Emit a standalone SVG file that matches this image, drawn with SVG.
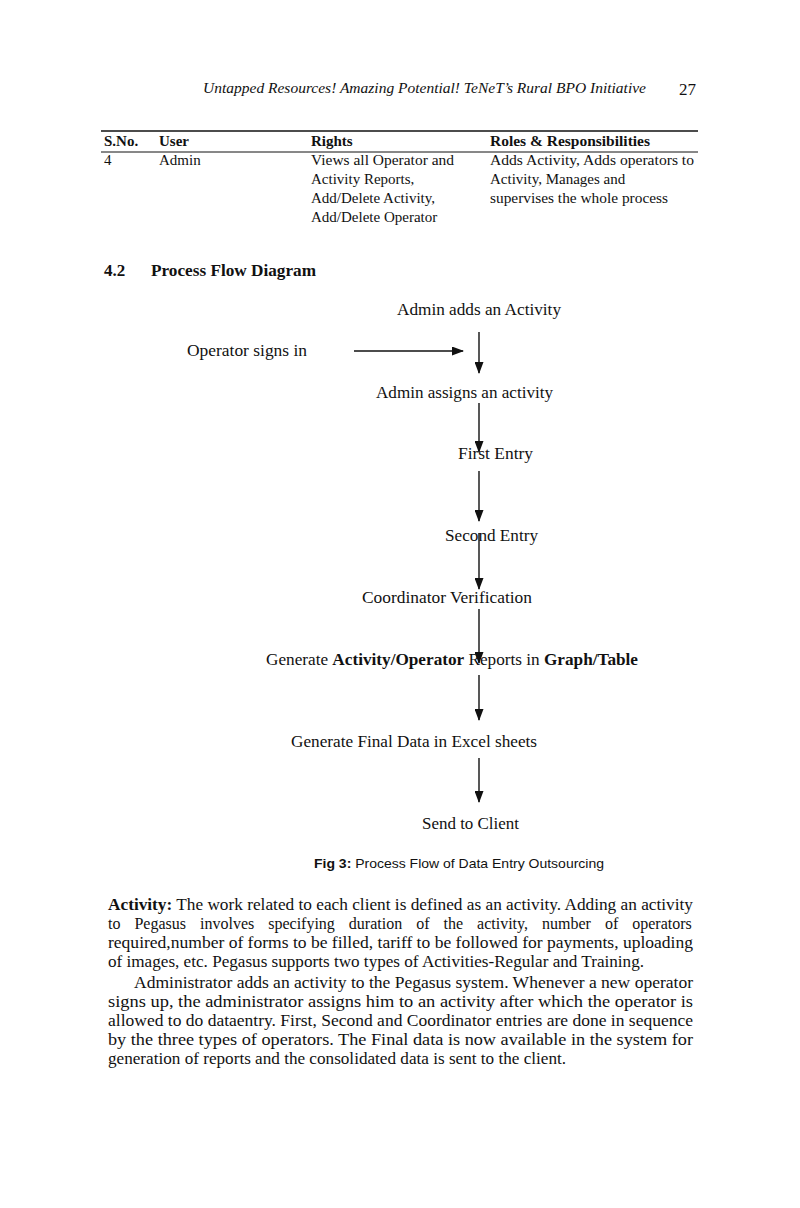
<svg xmlns="http://www.w3.org/2000/svg" width="800" height="1208" viewBox="0 0 800 1208">
<defs>
<style>
text{font-family:"Liberation Serif","Times New Roman",serif;fill:#111;}
.hd{font-size:15px;font-style:italic;}
.tb{font-size:15px;}
.th{font-size:15px;font-weight:bold;}
.fl{font-size:16px;}
.b{font-weight:bold;}
.cap{font-family:"Liberation Sans",Arial,sans-serif;font-size:13px;}
.p{font-size:16px;}
.ln{stroke:#111;stroke-width:1.3;fill:none;}
.ar{stroke:#111;stroke-width:1.4;fill:none;}
</style>
<marker id="ah" viewBox="0 0 12 9" refX="11" refY="4.5" markerWidth="12" markerHeight="9" markerUnits="userSpaceOnUse" orient="auto">
<path d="M0,0 L12,4.5 L0,9 z" fill="#111"/>
</marker>
</defs>
<rect width="800" height="1208" fill="#fff"/>
<g id="header">
<text class="hd" x="203" y="93" textLength="443" lengthAdjust="spacingAndGlyphs">Untapped Resources! Amazing Potential! TeNeT’s Rural BPO Initiative</text>
<text x="679" y="95" style="font-size:17px">27</text>
</g>
<g id="table">
<line class="ln" x1="101" y1="131" x2="698" y2="131"/>
<line class="ln" x1="101" y1="152" x2="698" y2="152" style="stroke-width:1"/>
<text class="th" x="104" y="146">S.No.</text>
<text class="th" x="159" y="146">User</text>
<text class="th" x="311" y="146">Rights</text>
<text class="th" x="490" y="146" textLength="160" lengthAdjust="spacingAndGlyphs">Roles &amp; Responsibilities</text>
<text class="tb" x="104" y="165">4</text>
<text class="tb" x="159" y="165">Admin</text>
<text class="tb" x="311" y="165" textLength="143" lengthAdjust="spacingAndGlyphs">Views all Operator and</text>
<text class="tb" x="311" y="184">Activity Reports,</text>
<text class="tb" x="311" y="203">Add/Delete Activity,</text>
<text class="tb" x="311" y="222">Add/Delete Operator</text>
<text class="tb" x="490" y="165" textLength="204" lengthAdjust="spacingAndGlyphs">Adds Activity, Adds operators to</text>
<text class="tb" x="490" y="184">Activity, Manages and</text>
<text class="tb" x="490" y="203" textLength="178" lengthAdjust="spacingAndGlyphs">supervises the whole process</text>
</g>
<g id="section-title">
<text x="104" y="276" style="font-size:17px;font-weight:bold">4.2</text>
<text x="151" y="276" style="font-size:17px;font-weight:bold" textLength="165" lengthAdjust="spacingAndGlyphs">Process Flow Diagram</text>
</g>
<g id="n1"><text class="fl" x="397" y="315" textLength="164" lengthAdjust="spacingAndGlyphs">Admin adds an Activity</text></g>
<g id="n0"><text class="fl" x="187" y="356" textLength="120" lengthAdjust="spacingAndGlyphs">Operator signs in</text></g>
<g id="n2"><text class="fl" x="376" y="398" textLength="177" lengthAdjust="spacingAndGlyphs">Admin assigns an activity</text></g>
<g id="n3"><text class="fl" x="458" y="459" textLength="75" lengthAdjust="spacingAndGlyphs">First Entry</text></g>
<g id="n4"><text class="fl" x="445" y="541" textLength="93" lengthAdjust="spacingAndGlyphs">Second Entry</text></g>
<g id="n5"><text class="fl" x="362" y="603" textLength="170" lengthAdjust="spacingAndGlyphs">Coordinator Verification</text></g>
<g id="n6"><text class="fl" x="266" y="665" textLength="372" lengthAdjust="spacingAndGlyphs">Generate <tspan class="b">Activity/Operator</tspan> Reports in <tspan class="b">Graph/Table</tspan></text></g>
<g id="n7"><text class="fl" x="291" y="747" textLength="246" lengthAdjust="spacingAndGlyphs">Generate Final Data in Excel sheets</text></g>
<g id="n8"><text class="fl" x="422" y="829" textLength="97" lengthAdjust="spacingAndGlyphs">Send to Client</text></g>
<g id="connectors">
<line class="ar" x1="354" y1="351" x2="463" y2="351" marker-end="url(#ah)"/>
<line class="ar" x1="479" y1="332" x2="479" y2="373" marker-end="url(#ah)"/>
<line class="ar" x1="479" y1="403" x2="479" y2="452" marker-end="url(#ah)"/>
<line class="ar" x1="479" y1="471" x2="479" y2="521" marker-end="url(#ah)"/>
<line class="ar" x1="479" y1="533" x2="479" y2="589" marker-end="url(#ah)"/>
<line class="ar" x1="479" y1="609" x2="479" y2="663" marker-end="url(#ah)"/>
<line class="ar" x1="479" y1="675" x2="479" y2="720" marker-end="url(#ah)"/>
<line class="ar" x1="479" y1="758" x2="479" y2="802" marker-end="url(#ah)"/>
</g>
<g id="caption">
<text class="cap" x="314" y="868" textLength="290" lengthAdjust="spacingAndGlyphs"><tspan font-weight="bold">Fig 3:</tspan> Process Flow of Data Entry Outsourcing</text>
</g>
<g id="body">
<text class="p" x="108" y="910" textLength="585" lengthAdjust="spacingAndGlyphs"><tspan class="b">Activity:</tspan> The work related to each client is defined as an activity. Adding an activity</text>
<text class="p" x="108" y="929" word-spacing="10">to Pegasus involves specifying duration of the activity, number of operators</text>
<text class="p" x="108" y="948" textLength="585" lengthAdjust="spacingAndGlyphs">required,number of forms to be filled, tariff to be followed for payments, uploading</text>
<text class="p" x="108" y="967" textLength="536" lengthAdjust="spacingAndGlyphs">of images, etc. Pegasus supports two types of Activities-Regular and Training.</text>
<text class="p" x="134" y="988" textLength="559" lengthAdjust="spacingAndGlyphs">Administrator adds an activity to the Pegasus system. Whenever a new operator</text>
<text class="p" x="108" y="1007" textLength="585" lengthAdjust="spacingAndGlyphs">signs up, the administrator assigns him to an activity after which the operator is</text>
<text class="p" x="108" y="1026" textLength="585" lengthAdjust="spacingAndGlyphs">allowed to do dataentry. First, Second and Coordinator entries are done in sequence</text>
<text class="p" x="108" y="1045" textLength="585" lengthAdjust="spacingAndGlyphs">by the three types of operators. The Final data is now available in the system for</text>
<text class="p" x="108" y="1064" textLength="458" lengthAdjust="spacingAndGlyphs">generation of reports and the consolidated data is sent to the client.</text>
</g>
</svg>
